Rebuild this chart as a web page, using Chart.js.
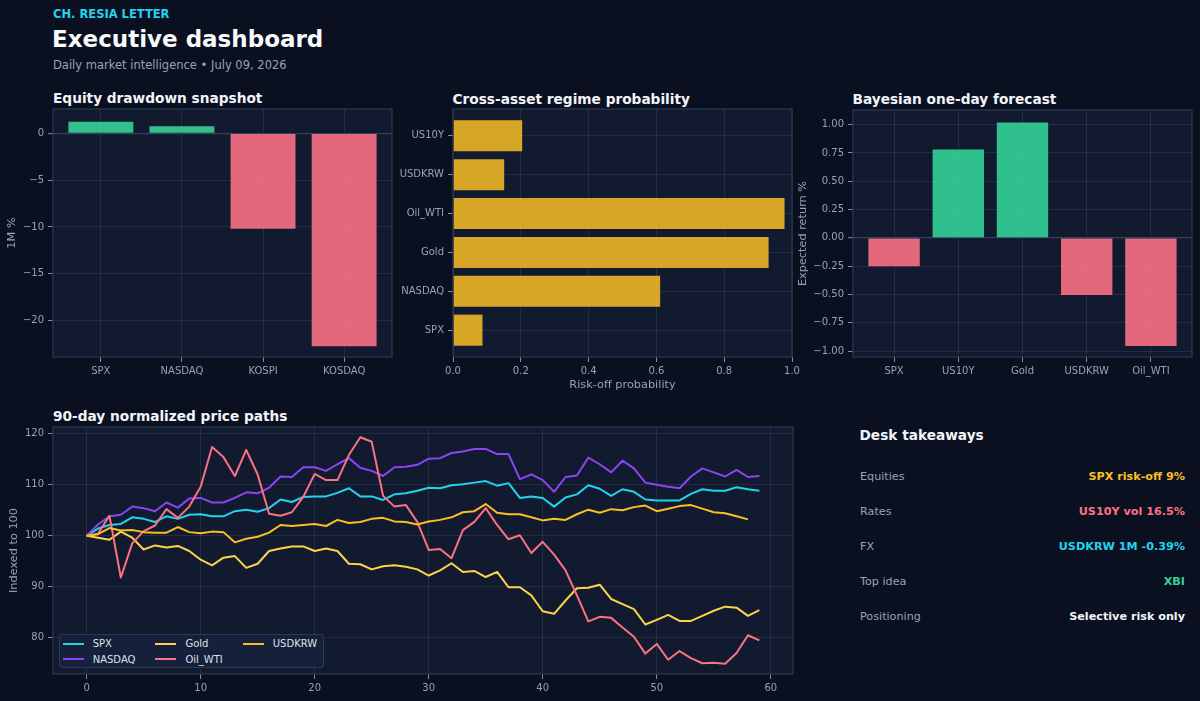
<!DOCTYPE html>
<html>
<head>
<meta charset="utf-8">
<script src="https://cdn.jsdelivr.net/npm/chart.js@4.4.1/dist/chart.umd.min.js"></script>
<style>
html,body{margin:0;padding:0;background:#0b1020;width:1200px;height:701px;overflow:hidden;font-family:'DejaVu Sans',sans-serif;}
.t{position:absolute;white-space:nowrap;line-height:1;}
.brand{left:53px;top:8.5px;color:#22d3ee;font-weight:bold;font-size:11.5px;}
.title{left:52px;top:28.2px;color:#f8fafc;font-weight:bold;font-size:23px;}
.sub{left:53px;top:60px;color:#94a3b8;font-size:11.5px;}
.ptitle{color:#f1f5f9;font-weight:bold;font-size:13.7px;}
canvas{position:absolute;}
#legend{position:absolute;left:58.7px;top:634px;height:34.3px;box-sizing:border-box;background:#16203a;border:1px solid #2c3a57;border-radius:3px;padding:1px 6px 0 3px;display:grid;grid-template-rows:15.6px 15.6px;grid-auto-flow:column;column-gap:20px;align-content:center;}
.li{display:flex;align-items:center;font-size:10px;color:#dbe2ec;}
.li span.h{display:inline-block;width:21px;height:2px;margin-right:9px;}
.row{position:absolute;left:860px;width:325px;font-size:11.2px;line-height:1;}
.row .k{position:absolute;left:0;top:0;color:#94a3b8;}
.row .v{position:absolute;right:0;top:0;font-weight:bold;white-space:nowrap;}
</style>
</head>
<body>
<div class="t brand">CH. RESIA LETTER</div>
<div class="t title">Executive dashboard</div>
<div class="t sub">Daily market intelligence • July 09, 2026</div>

<div class="t ptitle" style="left:53px;top:92.4px;">Equity drawdown snapshot</div>
<div class="t ptitle" style="left:452.5px;top:92.6px;">Cross-asset regime probability</div>
<div class="t ptitle" style="left:852.5px;top:92.6px;">Bayesian one-day forecast</div>
<div class="t ptitle" style="left:53px;top:409.5px;">90-day normalized price paths</div>
<div class="t ptitle" style="left:859.5px;top:428.5px;">Desk takeaways</div>

<canvas id="c1" width="400" height="285" style="left:0px;top:100px;"></canvas>
<canvas id="c2" width="410" height="300" style="left:400px;top:100px;"></canvas>
<canvas id="c3" width="410" height="285" style="left:790px;top:100px;"></canvas>
<canvas id="c4" width="810" height="283" style="left:0px;top:418px;"></canvas>
<div id="legend"></div>
<div id="takeaways"></div>

<script>
// ---------------- DATA ----------------
const drawdownAssets = ['SPX', 'NASDAQ', 'KOSPI', 'KOSDAQ'];
const drawdown1M = [1.25, 0.75, -10.2, -22.75];
const drawdownTicks = [0, -5, -10, -15, -20];

const regimeAssets = ['SPX', 'NASDAQ', 'Gold', 'Oil_WTI', 'USDKRW', 'US10Y'];
const riskOffProb = [0.087, 0.611, 0.931, 0.978, 0.151, 0.204];
const probTicks = [0, 0.2, 0.4, 0.6, 0.8, 1.0];

const forecastAssets = ['SPX', 'US10Y', 'Gold', 'USDKRW', 'Oil_WTI'];
const expectedReturn = [-0.25, 0.78, 1.02, -0.505, -0.955];
const returnTicks = [-1, -0.75, -0.5, -0.25, 0, 0.25, 0.5, 0.75, 1];

const pathSeries = ['SPX', 'NASDAQ', 'Gold', 'Oil_WTI', 'USDKRW'];
const spxPath = [100,101.4,102.1,102.3,103.6,103.3,102.7,103.8,103.3,104.1,
  104.2,103.8,103.8,104.8,105.1,104.7,105.4,107.1,106.6,107.6,
  107.7,107.7,108.4,109.3,107.7,107.7,107.0,108.1,108.3,108.8,
  109.4,109.3,109.9,110.1,110.4,110.7,109.8,110.3,107.4,107.7,
  107.4,105.7,107.5,108.1,109.9,109.2,107.8,109.1,108.6,107.1,
  106.9,106.9,106.9,108.2,109.1,108.8,108.8,109.5,109.1,108.8];
const nasdaqPath = [100,102.2,103.8,104.1,105.7,105.4,104.8,106.5,105.5,107.3,
  107.4,106.5,106.5,107.4,108.5,108.3,109.4,111.6,111.5,113.4,
  113.4,112.7,114.0,115.2,113.3,112.7,111.7,113.4,113.5,113.9,
  115.1,115.2,116.2,116.5,117.0,117.0,116.0,116.0,111.1,112.0,
  110.9,108.6,111.5,111.8,115.3,114.0,112.4,114.7,113.2,110.4,
  110.0,109.6,109.3,111.6,113.2,112.4,111.6,112.9,111.5,111.7];
const goldPath = [100,99.6,99.2,100.8,99.6,97.3,98.1,97.7,98.0,97.0,
  95.3,94.2,95.7,96.0,93.7,94.5,97.0,97.5,97.9,97.9,
  97.0,97.5,97.0,94.5,94.4,93.4,94.0,94.2,93.9,93.4,
  92.2,93.2,94.6,92.9,93.1,91.9,92.9,89.9,89.9,88.3,
  85.2,84.7,87.3,89.7,89.8,90.4,87.6,86.6,85.6,82.6,
  83.5,84.5,83.3,83.3,84.3,85.3,86.1,85.9,84.3,85.4];
const oilPath = [100,100.4,103.9,91.8,98.5,100.9,102.0,105.2,103.5,105.7,
  109.6,117.4,115.4,111.7,116.8,112.0,104.3,103.9,104.6,107.6,
  112.1,110.9,110.9,115.8,119.3,118.4,107.8,105.7,106.0,102.7,
  97.2,97.4,95.6,101.1,102.7,105.4,102.1,99.3,100.1,96.6,
  98.8,96.3,93.2,88.3,83.2,84.1,83.9,82.0,80.2,76.9,
  78.8,75.7,77.4,76.0,75.0,75.1,74.9,77.0,80.5,79.5];
const usdkrwPath = [100,100.3,101.5,101.0,101.1,100.7,100.6,100.6,101.7,100.7,
  100.5,100.8,100.7,98.7,99.4,99.8,100.6,102.1,101.9,102.1,
  102.3,101.9,103.1,102.5,102.7,103.3,103.5,102.8,102.7,102.2,
  102.8,103.1,103.6,104.6,104.8,106.2,104.5,104.2,104.2,103.6,
  103.0,103.3,103.1,104.2,105.1,104.5,105.2,105.0,105.6,105.9,
  104.8,105.3,105.8,106.0,105.3,104.6,104.4,103.8,103.2];
const dayTicks = [0, 10, 20, 30, 40, 50, 60];
const indexTicks = [80, 90, 100, 110, 120];

const takeawayLabels = ['Equities', 'Rates', 'FX', 'Top idea', 'Positioning'];
const takeawayValues = ['SPX risk-off 9%', 'US10Y vol 16.5%', 'USDKRW 1M -0.39%', 'XBI', 'Selective risk only'];

// ---------------- STYLE ----------------
const AX_BG = '#111a2e';
const SPINE = '#2b3955';
const GRID = 'rgba(100,116,139,0.22)';
const ZERO = '#34425f';
const MUTED = '#94a3b8';
const TICKC = '#7f8ca4';
const GREEN = 'rgba(52,211,153,0.9)';
const RED = 'rgba(251,113,133,0.9)';
const GOLDBAR = 'rgba(251,191,36,0.85)';
const lineColors = ['#22d3ee', '#8a45f2', '#fcd34d', '#fb7185', '#fbbf24'];
const takeawayColors = ['#fbbf24', '#fb7185', '#22d3ee', '#34d399', '#f1f5f9'];
const takeawayTops = [471.1, 506.1, 541.1, 575.6, 610.6];

Chart.defaults.font.family = "'DejaVu Sans', sans-serif";
Chart.defaults.font.size = 10;
Chart.defaults.color = MUTED;
Chart.defaults.animation = false;

const framePlugin = {
  id: 'frame',
  beforeDraw(chart) {
    const {ctx, chartArea: a} = chart;
    ctx.save(); ctx.fillStyle = AX_BG; ctx.fillRect(a.left, a.top, a.right - a.left, a.bottom - a.top); ctx.restore();
  },
  afterDraw(chart) {
    const {ctx, chartArea: a} = chart;
    ctx.save(); ctx.strokeStyle = SPINE; ctx.lineWidth = 1.2;
    ctx.strokeRect(a.left, a.top, a.right - a.left, a.bottom - a.top); ctx.restore();
  }
};

function fmtNum(v, d) {
  const s = Math.abs(v).toFixed(d);
  return v < 0 ? '\u2212' + s : s;
}
function grid(zero) {
  return {
    color: c => (zero && c.tick && Math.abs(c.tick.value) < 1e-9) ? ZERO : GRID,
    lineWidth: c => (zero && c.tick && Math.abs(c.tick.value) < 1e-9) ? 1.3 : 1,
    drawTicks: true, tickLength: 5, tickColor: TICKC, tickWidth: 1, offset: false
  };
}
function xAxis(o) {
  return Object.assign({
    type: 'linear', offset: false, border: {display: false},
    afterBuildTicks: s => { s.ticks = o.tickVals.map(v => ({value: v})); },
    afterFit: s => { s.height = o.h; s.paddingLeft = 0; s.paddingRight = 0; },
    ticks: {callback: o.fmt, autoSkip: false, maxRotation: 0, minRotation: 0, padding: 3, color: MUTED, font: {size: 10}},
    grid: grid(false)
  }, o.extra || {});
}
function yAxis(o) {
  return Object.assign({
    type: 'linear', offset: false, border: {display: false},
    afterBuildTicks: s => { s.ticks = o.tickVals.map(v => ({value: v})); },
    afterFit: s => { s.width = o.w; s.paddingTop = 0; s.paddingBottom = 0; },
    ticks: {callback: o.fmt, autoSkip: false, padding: 4, color: MUTED, font: {size: 10}},
    grid: grid(o.zero)
  }, o.extra || {});
}
const noPlug = {legend: {display: false}, tooltip: {enabled: false}};

// Chart 1: Equity drawdown
new Chart(document.getElementById('c1'), {
  type: 'bar',
  data: {datasets: [{
    data: drawdown1M.map((v, i) => ({x: i, y: v})),
    backgroundColor: drawdown1M.map(v => v >= 0 ? GREEN : RED),
    borderWidth: 0, barPercentage: 0.8, categoryPercentage: 1
  }]},
  options: {
    responsive: false, plugins: noPlug,
    layout: {padding: {top: 9, right: 8, left: 0, bottom: 0}},
    scales: {
      x: xAxis({tickVals: drawdownAssets.map((_, i) => i), fmt: v => drawdownAssets[v], h: 28,
        extra: {min: -0.59, max: 3.59, z: 1}}),
      y: yAxis({tickVals: drawdownTicks, fmt: v => fmtNum(v, 0), w: 53, zero: true,
        extra: {min: -23.9, max: 2.6, z: 1,
          title: {display: true, text: '1M %', color: MUTED, font: {size: 11.3}, padding: {top: 5.5, bottom: 0}}}})
    }
  },
  plugins: [framePlugin]
});

// Chart 2: regime probability
new Chart(document.getElementById('c2'), {
  type: 'bar',
  data: {datasets: [{
    data: riskOffProb.map((v, i) => ({x: v, y: i})),
    backgroundColor: GOLDBAR, borderWidth: 0, barPercentage: 0.8, categoryPercentage: 1
  }]},
  options: {
    indexAxis: 'y', responsive: false, plugins: noPlug,
    layout: {padding: {top: 9, right: 18, left: 0, bottom: 0}},
    scales: {
      x: xAxis({tickVals: probTicks, fmt: v => fmtNum(v, 1), h: 43,
        extra: {min: 0, max: 1, z: 1,
          title: {display: true, text: 'Risk-off probability', color: MUTED, font: {size: 11.3}, padding: {top: 0, bottom: 8.2}}}}),
      y: yAxis({tickVals: regimeAssets.map((_, i) => i), fmt: v => regimeAssets[v], w: 53, zero: false,
        extra: {min: -0.69, max: 5.69, z: 1}})
    }
  },
  plugins: [framePlugin]
});

// Chart 3: Bayesian forecast
new Chart(document.getElementById('c3'), {
  type: 'bar',
  data: {datasets: [{
    data: expectedReturn.map((v, i) => ({x: i, y: v})),
    backgroundColor: expectedReturn.map(v => v >= 0 ? GREEN : RED),
    borderWidth: 0, barPercentage: 0.8, categoryPercentage: 1
  }]},
  options: {
    responsive: false, plugins: noPlug,
    layout: {padding: {top: 10, right: 8, left: 0, bottom: 0}},
    scales: {
      x: xAxis({tickVals: forecastAssets.map((_, i) => i), fmt: v => forecastAssets[v], h: 28,
        extra: {min: -0.64, max: 4.64, z: 1}}),
      y: yAxis({tickVals: returnTicks, fmt: v => fmtNum(v, 2), w: 63, zero: true,
        extra: {min: -1.053, max: 1.13, z: 1,
          title: {display: true, text: 'Expected return %', color: MUTED, font: {size: 11.3}, padding: {top: 5.9, bottom: 0}}}})
    }
  },
  plugins: [framePlugin]
});

// Chart 4: price paths
const paths = [spxPath, nasdaqPath, goldPath, oilPath, usdkrwPath];
new Chart(document.getElementById('c4'), {
  type: 'line',
  data: {datasets: paths.map((p, k) => ({
    label: pathSeries[k],
    data: p.map((v, i) => ({x: i, y: v})),
    borderColor: lineColors[k], backgroundColor: lineColors[k],
    borderWidth: 2, pointRadius: 0, tension: 0, fill: false,
    borderJoinStyle: 'round', order: paths.length - k
  }))},
  options: {
    responsive: false, plugins: noPlug,
    layout: {padding: {top: 9, right: 17, left: 0, bottom: 0}},
    scales: {
      x: xAxis({tickVals: dayTicks, fmt: v => String(v), h: 27, extra: {min: -2.95, max: 61.95}}),
      y: yAxis({tickVals: indexTicks, fmt: v => String(v), w: 53, zero: false,
        extra: {min: 72.9, max: 121.3,
          title: {display: true, text: 'Indexed to 100', color: MUTED, font: {size: 11.3}, padding: {top: 7.5, bottom: 0}}}})
    }
  },
  plugins: [framePlugin]
});

// Legend (inside the line chart)
const legend = document.getElementById('legend');
pathSeries.forEach((name, k) => {
  const d = document.createElement('div');
  d.className = 'li';
  d.innerHTML = '<span class="h" style="background:' + lineColors[k] + '"></span>' + name;
  legend.appendChild(d);
});

// Takeaways
const tk = document.getElementById('takeaways');
takeawayLabels.forEach((lab, i) => {
  const r = document.createElement('div');
  r.className = 'row';
  r.style.top = takeawayTops[i] + 'px';
  r.innerHTML = '<span class="k">' + lab + '</span><span class="v" style="color:' + takeawayColors[i] + '">' + takeawayValues[i] + '</span>';
  tk.appendChild(r);
});
</script>
</body>
</html>
